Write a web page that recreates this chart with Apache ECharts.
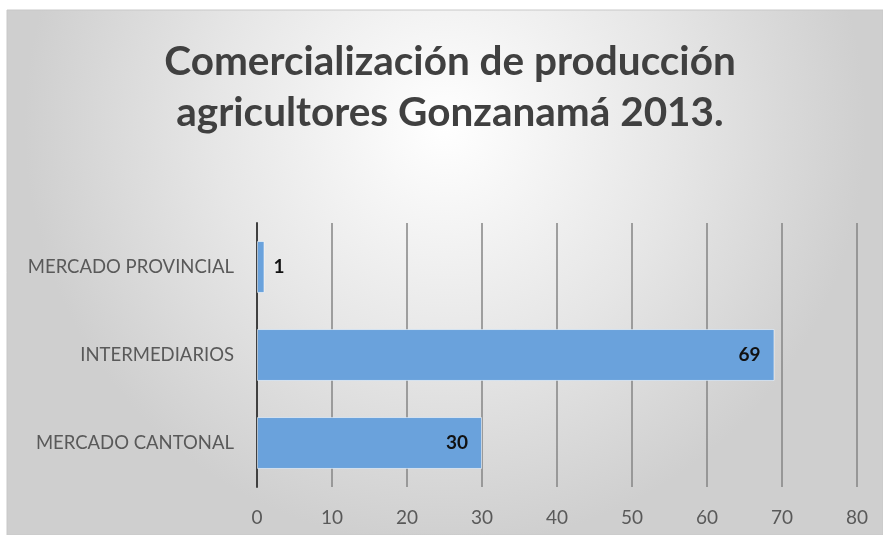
<!DOCTYPE html>
<html>
<head>
<meta charset="utf-8">
<script src="https://cdn.jsdelivr.net/npm/echarts@6/dist/echarts.min.js"></script>
<style>
  html, body { margin: 0; padding: 0; background: #fff; }
  #chart { width: 883px; height: 535px; }
</style>
</head>
<body>
<div id="chart"></div>
<script>
var titleText = 'Comercialización de producción\nagricultores Gonzanamá 2013.';
var categories = ['MERCADO CANTONAL', 'INTERMEDIARIOS', 'MERCADO PROVINCIAL'];
var values = [30, 69, 1];
var xTicks = { min: 0, max: 80, interval: 10 };

var chart = echarts.init(document.getElementById('chart'), null, { renderer: 'canvas' });

// small bars get their label outside, like Excel does
var barData = values.map(function (v) {
  var item = { value: v };
  if (v < 5) {
    item.label = { position: 'right', distance: 9 };
  }
  return item;
});

var option = {
  animation: false,
  graphic: [
    {
      type: 'rect',
      z: -10,
      silent: true,
      shape: { x: 7, y: 10, width: 876, height: 525 },
      style: {
        fill: new echarts.graphic.RadialGradient(0.5, 0.22, 0.8, [
          { offset: 0, color: '#ffffff' },
          { offset: 0.55, color: '#e6e6e6' },
          { offset: 1, color: '#cfcfcf' }
        ]),
        stroke: '#c8c8c8',
        lineWidth: 1
      }
    }
  ],
  title: {
    text: titleText,
    left: 445,
    top: 31,
    textAlign: 'center',
    textStyle: {
      fontFamily: 'Lato',
      fontWeight: 'bold',
      fontSize: 40.5,
      lineHeight: 51,
      color: '#404040'
    }
  },
  grid: {
    left: 257,
    right: 26,
    top: 223,
    bottom: 48
  },
  xAxis: {
    type: 'value',
    min: xTicks.min,
    max: xTicks.max,
    interval: xTicks.interval,
    axisLine: { show: false },
    axisTick: { show: false },
    splitLine: { lineStyle: { color: '#858585', width: 1.5 } },
    axisLabel: {
      margin: 21,
      fontFamily: 'Lato',
      fontSize: 19,
      color: '#595959'
    }
  },
  yAxis: {
    type: 'category',
    data: categories,
    axisLine: { show: true, lineStyle: { color: '#404040', width: 2 } },
    axisTick: { show: false },
    axisLabel: {
      margin: 23,
      fontFamily: 'Lato',
      fontSize: 18.5,
      color: '#595959'
    }
  },
  series: [
    {
      type: 'bar',
      data: barData,
      barCategoryGap: '41%',
      itemStyle: {
        color: '#6aa2dc',
        borderColor: 'rgba(255,255,255,0.55)',
        borderWidth: 1
      },
      label: {
        show: true,
        position: 'insideRight',
        distance: 14,
        fontFamily: 'Lato',
        fontWeight: 'bold',
        fontSize: 19,
        color: '#111111'
      }
    }
  ]
};

chart.setOption(option);
</script>
</body>
</html>
